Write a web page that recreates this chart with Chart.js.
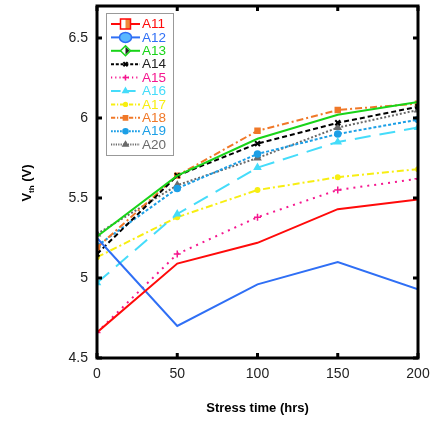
<!DOCTYPE html>
<html>
<head>
<meta charset="utf-8">
<script src="https://cdn.jsdelivr.net/npm/chart.js@4"></script>
<style>
  html, body { margin: 0; padding: 0; background: #fff; }
  #wrap { width: 444px; height: 421px; }
</style>
</head>
<body>
<div id="wrap"><canvas id="vthChart" width="444" height="421"></canvas></div>
<script>
// stress time points (hrs)
const stressHours = [0, 50, 100, 150, 200];
const yTickValues = [4.5, 5, 5.5, 6, 6.5];

// Vth readings per sample (V)
const a11 = [4.66, 5.09, 5.22, 5.43, 5.49];
const a12 = [5.25, 4.70, 4.96, 5.10, 4.93];
const a13 = [5.26, 5.64, 5.87, 6.02, 6.10];
const a14 = [5.15, 5.64, 5.84, 5.97, 6.07];
const a15 = [4.66, 5.15, 5.38, 5.55, 5.62];
const a16 = [4.97, 5.40, 5.69, 5.85, 5.94];
const a17 = [5.13, 5.38, 5.55, 5.63, 5.68];
const a18 = [5.19, 5.64, 5.92, 6.05, 6.09];
const a19 = [5.20, 5.56, 5.775, 5.90, 5.99];
const a20 = [5.275, 5.58, 5.75, 5.94, 6.05];

const FONT = 'Liberation Sans, Arial, sans-serif';

function mkSet(label, data, color, dash, pointStyle, radius, extra) {
    return Object.assign({
        label: label,
        data: data,
        borderColor: color,
        backgroundColor: color,
        borderWidth: 2,
        borderDash: dash,
        pointStyle: pointStyle,
        pointRadius: radius,
        pointBorderWidth: 1.5,
        tension: 0,
        fill: false
    }, extra || {});
}

const datasets = [
    mkSet('A11', a11, '#ff0a0a', [], 'rect', 0, { legendMark: 'a11' }),
    mkSet('A12', a12, '#2f6ff5', [], 'circle', 0, { legendMark: 'a12' }),
    mkSet('A13', a13, '#19d419', [], 'rectRot', 0, { legendMark: 'a13' }),
    mkSet('A14', a14, '#000000', [5, 3], 'crossRot', 3.5, { pointBorderWidth: 2 }),
    mkSet('A15', a15, '#f5178f', [2, 5], 'cross', 3.5, { pointBorderWidth: 1.5 }),
    mkSet('A16', a16, '#45dcfa', [16, 9], 'triangle', 3.5),
    mkSet('A17', a17, '#f7ee12', [7, 3, 2, 3], 'circle', 2.2),
    mkSet('A18', a18, '#f07828', [7, 3, 2, 3], 'rect', 3.5),
    mkSet('A19', a19, '#1c9fe6', [3, 2], 'circle', 3),
    mkSet('A20', a20, '#6a6a6a', [2, 2], 'triangle', 3.5)
];

// frame, inward ticks, titles and the boxed legend
const framePlugin = {
    id: 'frame',
    afterDraw(chart) {
        const ctx = chart.ctx;
        const a = chart.chartArea;
        const xs = chart.scales.x, ys = chart.scales.y;
        ctx.save();
        ctx.strokeStyle = '#000';
        ctx.lineWidth = 3;
        ctx.setLineDash([]);
        ctx.strokeRect(a.left, a.top, a.right - a.left, a.bottom - a.top);
        ctx.lineWidth = 3;
        stressHours.forEach(v => {
            const px = xs.getPixelForValue(v);
            ctx.beginPath();
            ctx.moveTo(px, a.bottom); ctx.lineTo(px, a.bottom - 5);
            ctx.moveTo(px, a.top); ctx.lineTo(px, a.top + 5);
            ctx.stroke();
        });
        yTickValues.forEach(v => {
            const py = ys.getPixelForValue(v);
            ctx.beginPath();
            ctx.moveTo(a.left, py); ctx.lineTo(a.left + 5, py);
            ctx.moveTo(a.right, py); ctx.lineTo(a.right - 5, py);
            ctx.stroke();
        });

        // axis titles
        ctx.fillStyle = '#000';
        ctx.font = 'bold 13px ' + FONT;
        ctx.textAlign = 'center';
        ctx.textBaseline = 'middle';
        ctx.fillText('Stress time (hrs)', (a.left + a.right) / 2, 408);

        ctx.translate(27, 183);
        ctx.rotate(-Math.PI / 2);
        ctx.textAlign = 'left';
        ctx.font = 'bold 13px ' + FONT;
        const w1 = ctx.measureText('V').width;
        ctx.font = 'bold 8px ' + FONT;
        const w2 = ctx.measureText('th').width;
        ctx.font = 'bold 13px ' + FONT;
        const w3 = ctx.measureText(' (V)').width;
        let x0 = -(w1 + w2 + w3) / 2;
        ctx.fillText('V', x0, 0);
        ctx.font = 'bold 8px ' + FONT;
        ctx.fillText('th', x0 + w1, 5);
        ctx.font = 'bold 13px ' + FONT;
        ctx.fillText(' (V)', x0 + w1 + w2, 0);
        ctx.restore();

        // legend box
        ctx.save();
        const bx = 106, by = 13, bw = 67, bh = 142;
        ctx.fillStyle = '#fff';
        ctx.fillRect(bx, by, bw, bh);
        ctx.strokeStyle = '#999';
        ctx.lineWidth = 1;
        ctx.strokeRect(bx + 0.5, by + 0.5, bw, bh);
        chart.data.datasets.forEach((ds, i) => {
            const y = 24 + i * 13.4;
            ctx.strokeStyle = ds.borderColor;
            ctx.lineWidth = 2;
            ctx.setLineDash(ds.borderDash.map(d => Math.max(1, d * 0.6)));
            ctx.beginPath();
            ctx.moveTo(111, y); ctx.lineTo(140, y);
            ctx.stroke();
            ctx.setLineDash([]);
            const cx = 125.5;
            if (ds.legendMark === 'a11') {
                ctx.fillStyle = '#fff';
                ctx.fillRect(cx - 5, y - 5, 10, 10);
                ctx.fillStyle = '#f08a3a';
                ctx.fillRect(cx, y - 5, 5, 10);
                ctx.strokeStyle = ds.borderColor;
                ctx.lineWidth = 1.5;
                ctx.strokeRect(cx - 5, y - 5, 10, 10);
            } else if (ds.legendMark === 'a12') {
                ctx.fillStyle = '#5ab8ff';
                ctx.beginPath(); ctx.ellipse(cx, y, 6, 5, 0, 0, Math.PI * 2); ctx.fill();
                ctx.strokeStyle = ds.borderColor; ctx.lineWidth = 1.5; ctx.stroke();
            } else if (ds.legendMark === 'a13') {
                ctx.fillStyle = '#fff';
                ctx.beginPath();
                ctx.moveTo(cx, y - 5); ctx.lineTo(cx + 5, y); ctx.lineTo(cx, y + 5); ctx.lineTo(cx - 5, y); ctx.closePath();
                ctx.fill();
                ctx.fillStyle = '#222';
                ctx.beginPath();
                ctx.moveTo(cx, y - 4); ctx.lineTo(cx + 4, y); ctx.lineTo(cx, y + 4); ctx.closePath();
                ctx.fill();
                ctx.strokeStyle = ds.borderColor; ctx.lineWidth = 1.5;
                ctx.beginPath();
                ctx.moveTo(cx, y - 5); ctx.lineTo(cx + 5, y); ctx.lineTo(cx, y + 5); ctx.lineTo(cx - 5, y); ctx.closePath();
                ctx.stroke();
            } else {
                ctx.fillStyle = ds.borderColor;
                ctx.strokeStyle = ds.borderColor;
                ctx.lineWidth = ds.pointBorderWidth;
                Chart.helpers.drawPoint(ctx, {
                    pointStyle: ds.pointStyle,
                    radius: ds.pointRadius * 0.85,
                    borderWidth: ds.pointBorderWidth,
                    rotation: 0
                }, cx, y);
            }
            ctx.fillStyle = ds.borderColor === '#000000' ? '#222' : ds.borderColor;
            ctx.font = '13.5px ' + FONT;
            ctx.textAlign = 'left';
            ctx.textBaseline = 'middle';
            ctx.fillText(ds.label, 142, y + 0.5);
        });
        ctx.restore();
    }
};

new Chart(document.getElementById('vthChart'), {
    type: 'line',
    data: { datasets: datasets.map(ds => Object.assign(ds, { data: ds.data.map((v, i) => ({ x: stressHours[i], y: v })) })) },
    options: {
        responsive: false,
        animation: false,
        events: [],
        layout: { padding: { left: 0, right: 26, top: 5, bottom: 0 } },
        plugins: { legend: { display: false }, tooltip: { enabled: false } },
        scales: {
            x: {
                type: 'linear',
                min: 0, max: 200,
                afterBuildTicks: s => { s.ticks = stressHours.map(v => ({ value: v })); },
                afterFit: s => { s.height = 63; },
                grid: { display: false, drawTicks: false },
                border: { display: false },
                ticks: { color: '#222', font: { family: FONT, size: 14 }, padding: 8, maxRotation: 0 }
            },
            y: {
                min: 4.5, max: 6.7,
                afterBuildTicks: s => { s.ticks = yTickValues.map(v => ({ value: v })); },
                afterFit: s => { s.width = 97; s.paddingTop = 0; s.paddingBottom = 0; },
                grid: { display: false, drawTicks: false },
                border: { display: false },
                ticks: { color: '#222', font: { family: FONT, size: 14 }, padding: 9, callback: v => String(v) }
            }
        }
    },
    plugins: [framePlugin]
});
</script>
</body>
</html>
